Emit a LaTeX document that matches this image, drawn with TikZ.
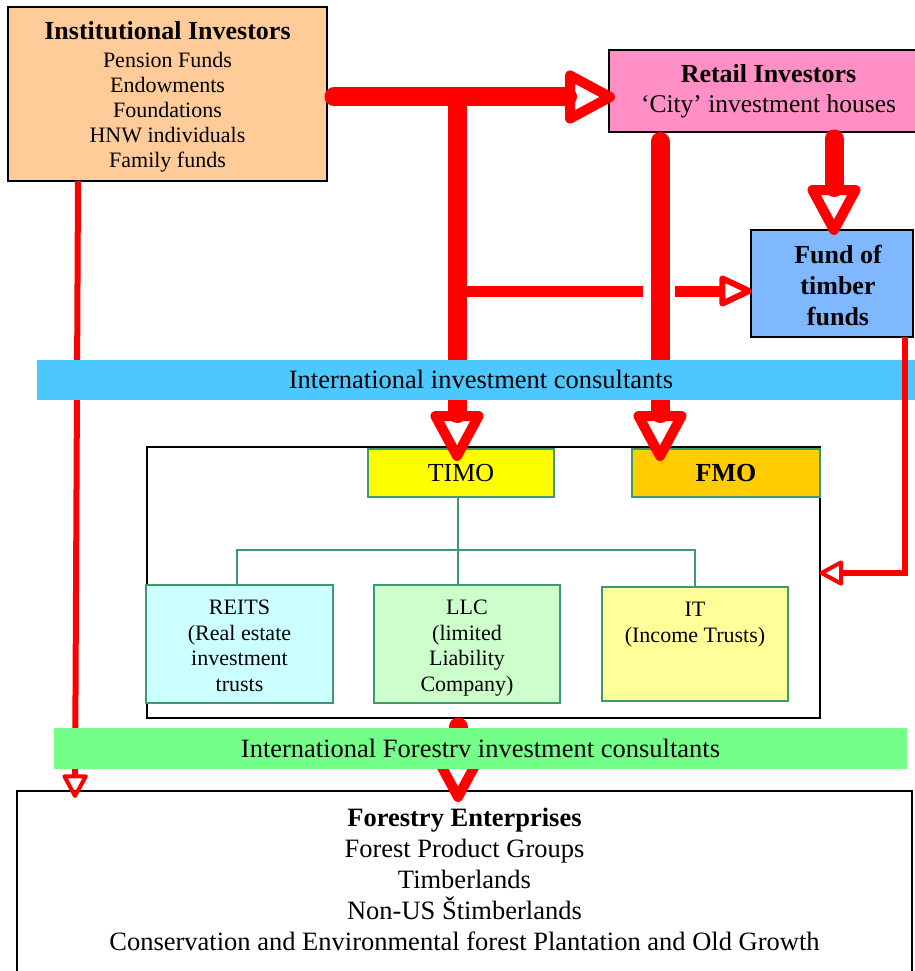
\documentclass[tikz,border=0pt]{standalone}
\usepackage{fontspec}
\setmainfont{Liberation Serif}
\usetikzlibrary{arrows.meta,calc}
\definecolor{peach}{HTML}{FFCC99}
\definecolor{pinkbox}{HTML}{FF8FC4}
\definecolor{fundblue}{HTML}{80B8FF}
\definecolor{bandblue}{HTML}{4DC8FF}
\definecolor{bandgreen}{HTML}{73FF88}
\definecolor{timoyellow}{HTML}{FFFF00}
\definecolor{fmoorange}{HTML}{FFCC00}
\definecolor{reitscyan}{HTML}{CCFFFF}
\definecolor{llcgreen}{HTML}{CCFFCC}
\definecolor{ityellow}{HTML}{FFFF99}
\definecolor{treegreen}{HTML}{3D9A6E}
\definecolor{arrowred}{HTML}{FF0000}
\tikzset{
  boxs/.style={rectangle, draw=black, line width=1.5pt, inner sep=0pt, outer sep=0pt, align=center},
  gbox/.style={rectangle, draw=treegreen, line width=1.5pt, inner sep=0pt, outer sep=0pt, align=center},
  bandbox/.style={rectangle, inner sep=0pt, outer sep=0pt, align=center},
  treeline/.style={draw=treegreen, line width=2.5pt},
  bigarrow/.style={draw=arrowred, line width=19pt, line cap=round,
    -{Triangle[open, length=56pt, width=57pt, line width=10pt, round]}},
  midline/.style={draw=arrowred, line width=11pt},
  midarrow/.style={draw=arrowred, line width=11pt,
    -{Triangle[open, length=37pt, width=33pt, line width=6pt, round]}},
  thinarrow/.style={draw=arrowred, line width=6pt,
    -{Triangle[open, length=26pt, width=27pt, line width=4pt, round]}},
}
\begin{document}
\begin{tikzpicture}[x=1pt,y=-1pt]
\useasboundingbox (0,0) rectangle (914,971);

% boxes
\node[boxs, fill=peach, minimum width=319pt, minimum height=174pt] (inst) at (167.5,94) {};
\node[inner sep=0pt, align=center, font=\fontsize{22}{25}\selectfont] (insttext) at (167.5,96.5)
  {{\fontsize{26}{28}\selectfont\bfseries Institutional Investors}\\[3pt]
   Pension Funds\\Endowments\\Foundations\\HNW individuals\\Family funds};
\node[boxs, fill=pinkbox, minimum width=319pt, minimum height=82pt,
      font=\fontsize{25.5}{30}\selectfont] (retail) at (768.5,91)
  {{\fontsize{26}{30}\selectfont\bfseries Retail Investors}\\‘City’ investment houses};
\node[boxs, fill=fundblue, minimum width=162pt, minimum height=107pt] (fund) at (832,283.5) {};
\node[inner sep=0pt, align=center, font=\fontsize{26}{31}\selectfont\bfseries] (fundtext) at (838,286)
  {Fund of\\timber\\funds};
\node[boxs, fill=white, minimum width=673pt, minimum height=271pt] (big) at (483.5,582.5) {};
\node[gbox, fill=timoyellow, minimum width=186pt, minimum height=48pt,
      font=\fontsize{26}{30}\selectfont] (timo) at (461,473) {TIMO};
\node[gbox, fill=fmoorange, minimum width=188pt, minimum height=48pt,
      font=\fontsize{26}{30}\selectfont\bfseries] (fmo) at (726,473) {FMO};
\node[gbox, fill=reitscyan, minimum width=187pt, minimum height=118pt] (reits) at (239.5,644) {};
\node[inner sep=0pt, align=center, font=\fontsize{22}{25.5}\selectfont, anchor=north] (reitstext) at (239.5,600)
  {REITS\\(Real estate\\investment\\trusts};
\node[gbox, fill=llcgreen, minimum width=186pt, minimum height=118pt] (llc) at (467,644) {};
\node[inner sep=0pt, align=center, font=\fontsize{22}{25.5}\selectfont, anchor=north] (llctext) at (467,600)
  {LLC\\(limited\\Liability\\Company)};
\node[gbox, fill=ityellow, minimum width=186pt, minimum height=114pt] (it) at (695,644) {};
\node[inner sep=0pt, align=center, font=\fontsize{22}{25.5}\selectfont, anchor=north] (ittext) at (695,602)
  {IT\\(Income Trusts)};
\node[boxs, fill=white, minimum width=895pt, minimum height=199pt] (forest) at (464.5,890.5) {};
\node[inner sep=0pt, align=center, font=\fontsize{26.5}{31}\selectfont] (foresttext) at (464.5,879)
  {{\bfseries Forestry Enterprises}\\Forest Product Groups\\Timberlands\\Non-US Štimberlands\\
   Conservation and Environmental forest Plantation and Old Growth};

% tree connectors
\coordinate (xT) at (458,0);
\coordinate (xR) at (237,0);
\coordinate (treeY) at (0,550);
\draw[treeline] (timo.south -| xT) -- (llc.north -| xT);
\draw[treeline] (reits.north -| xR) -- (xR |- treeY) -- (it.north |- treeY) -- (it.north);

% red arrows
\coordinate (yA) at (0,97);
\coordinate (xB) at (457,0);
\coordinate (xC) at (660,0);
\coordinate (xE) at (834,0);
\coordinate (yD) at (0,291);
\coordinate (xH) at (458,0);
\coordinate (xG) at (905,0);
\coordinate (yG) at (0,573);

\draw[bigarrow] ($(inst.east |- yA)+(7,0)$) -- ($(retail.west |- yA)+(6,0)$);
\draw[bigarrow] (xB |- yA) -- ($(xB |- timo.north)+(0,12)$);
\draw[midline] (xB |- yD) -- ($(xC |- yD)+(-17,0)$);
\draw[midarrow] ($(xC |- yD)+(15,0)$) -- ($(fund.west |- yD)+(1,0)$);
\draw[bigarrow] ($(xC |- retail.south)+(0,9.5)$) -- ($(xC |- fmo.north)+(0,12)$);
\draw[bigarrow] ($(xE |- retail.south)+(0,7)$) -- ($(xE |- fund.north)+(0,5)$);
\draw[thinarrow] ($(inst.south west)+(70,0)$) -- ($(forest.north west)+(58,7)$);
\draw[bigarrow] ($(xH |- big.south)+(0,9)$) -- ($(xH |- forest.north)+(0,11)$);

% bands
\node[bandbox, fill=bandblue, minimum width=888pt, minimum height=40pt,
      font=\fontsize{26.5}{30}\selectfont] (icons) at (481,379.5)
  {International investment consultants};
\node[bandbox, fill=bandgreen, minimum width=853pt, minimum height=41pt,
      font=\fontsize{26.5}{30}\selectfont] (ifcons) at (480.5,748.5)
  {International Forestrv investment consultants};

\draw[thinarrow] (xG |- fund.south) |- ($(big.east |- yG)+(-0.5,0)$);
\end{tikzpicture}
\end{document}
